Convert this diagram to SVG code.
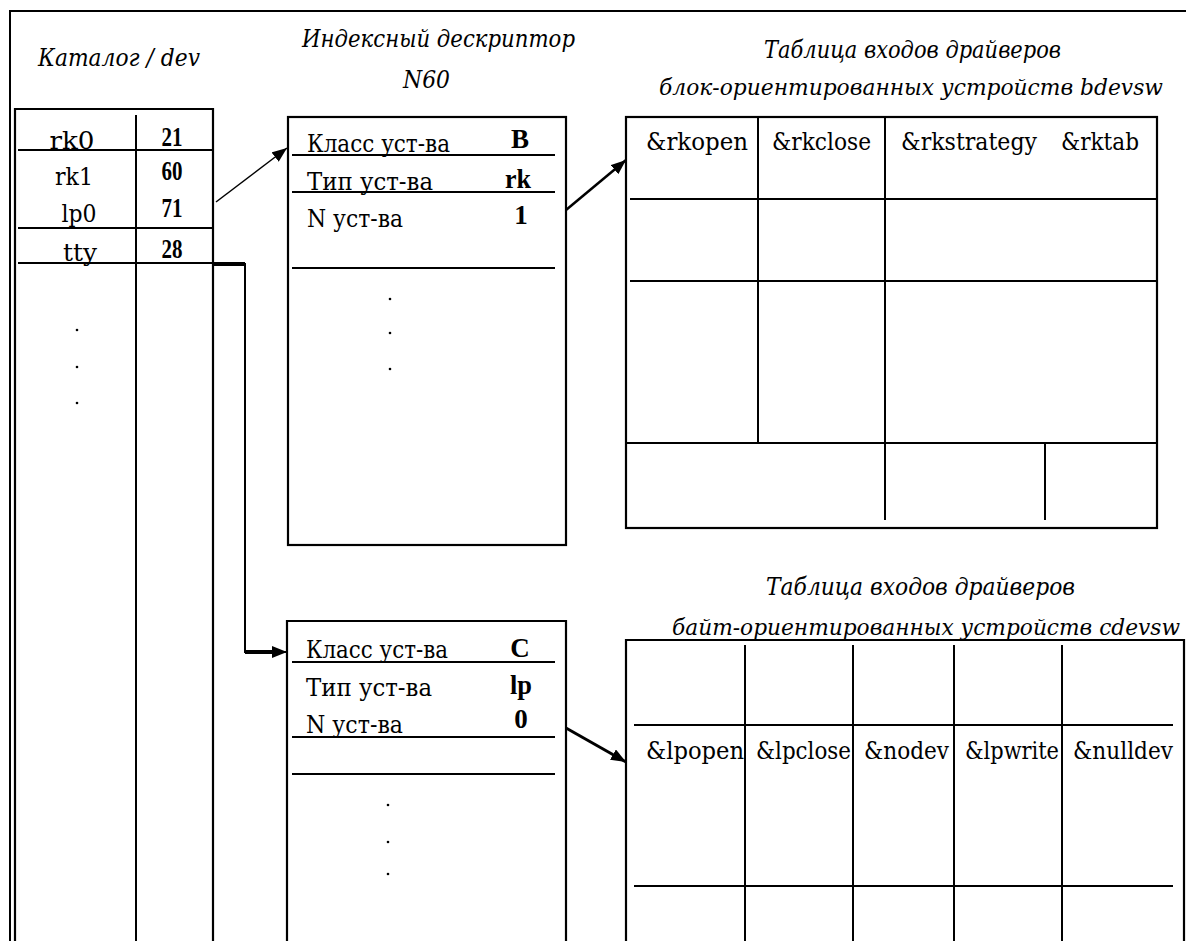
<svg xmlns="http://www.w3.org/2000/svg" width="1186" height="941" viewBox="0 0 1186 941">
<defs>
<marker id="ah" markerUnits="userSpaceOnUse" markerWidth="16" markerHeight="12" refX="15" refY="6" orient="auto">
<path d="M0,0 L15,6 L0,12 z" fill="#000"/>
</marker>
<style>
.ln{stroke:#000;stroke-width:2;fill:none}
.bx{stroke:#000;stroke-width:2.2;fill:none}
.t{font-family:"DejaVu Serif","Liberation Serif",serif;font-size:24px;fill:#000}
.b{font-family:"Liberation Serif","DejaVu Serif",serif;font-size:27px;font-weight:bold;fill:#000;text-anchor:middle}
.ti{font-family:"DejaVu Serif","Liberation Serif",serif;font-size:24px;font-style:italic;fill:#000}
.ts{font-size:22px}
.c{text-anchor:middle}
.dot{fill:#000}
</style>
</defs>
<rect width="1186" height="941" fill="#fff"/>
<g id="frame">
<line class="ln" x1="10" y1="11" x2="1186" y2="11"/>
<line class="ln" x1="10" y1="10" x2="10" y2="941"/>
</g>
<g id="catalog">
<text class="ti" x="38" y="66" textLength="162" lengthAdjust="spacingAndGlyphs">Каталог / dev</text>
<path class="bx" d="M15,941 V109 H213 V941"/>
<line class="ln" x1="136" y1="115" x2="136" y2="941"/>
<line class="ln" x1="18" y1="150" x2="213" y2="150"/>
<line class="ln" x1="18" y1="228" x2="213" y2="228"/>
<line class="ln" x1="18" y1="263" x2="213" y2="263"/>
<text class="t c" x="72" y="149" textLength="45" lengthAdjust="spacingAndGlyphs">rk0</text>
<text class="b" x="172" y="146" textLength="21" lengthAdjust="spacingAndGlyphs">21</text>
<text class="t c" x="74" y="185" textLength="38" lengthAdjust="spacingAndGlyphs">rk1</text>
<text class="b" x="172" y="180" textLength="21" lengthAdjust="spacingAndGlyphs">60</text>
<text class="t c" x="79" y="222" textLength="35" lengthAdjust="spacingAndGlyphs">lp0</text>
<text class="b" x="172" y="217" textLength="21" lengthAdjust="spacingAndGlyphs">71</text>
<text class="t c" x="80" y="261" textLength="34" lengthAdjust="spacingAndGlyphs">tty</text>
<text class="b" x="172" y="258" textLength="21" lengthAdjust="spacingAndGlyphs">28</text>
<circle class="dot" cx="77" cy="330" r="1.3"/>
<circle class="dot" cx="77" cy="367" r="1.3"/>
<circle class="dot" cx="77" cy="403" r="1.3"/>
</g>
<g id="inode1">
<text class="ti" x="302" y="47" textLength="273" lengthAdjust="spacingAndGlyphs">Индексный дескриптор</text>
<text class="ti" x="403" y="88" textLength="47" lengthAdjust="spacingAndGlyphs">N60</text>
<rect class="bx" x="288" y="117" width="278" height="428"/>
<text class="t" x="307" y="152" textLength="143" lengthAdjust="spacingAndGlyphs">Класс уст-ва</text>
<text class="b" x="520" y="148">B</text>
<line class="ln" x1="292" y1="155" x2="555" y2="155"/>
<text class="t" x="307" y="190" textLength="126" lengthAdjust="spacingAndGlyphs">Тип уст-ва</text>
<text class="b" x="518" y="188" textLength="26" lengthAdjust="spacingAndGlyphs">rk</text>
<line class="ln" x1="292" y1="192" x2="555" y2="192"/>
<text class="t" x="307" y="227" textLength="96" lengthAdjust="spacingAndGlyphs">N уст-ва</text>
<text class="b" x="521" y="224">1</text>
<line class="ln" x1="292" y1="268" x2="555" y2="268"/>
<circle class="dot" cx="390" cy="299" r="1.3"/>
<circle class="dot" cx="390" cy="333" r="1.3"/>
<circle class="dot" cx="390" cy="369" r="1.3"/>
</g>
<g id="inode2">
<path class="bx" d="M287,941 V621 H566 V941"/>
<text class="t" x="306" y="658" textLength="142" lengthAdjust="spacingAndGlyphs">Класс уст-ва</text>
<text class="b" x="520" y="657">C</text>
<line class="ln" x1="292" y1="662" x2="555" y2="662"/>
<text class="t" x="306" y="696" textLength="126" lengthAdjust="spacingAndGlyphs">Тип уст-ва</text>
<text class="b" x="521" y="694" textLength="22" lengthAdjust="spacingAndGlyphs">lp</text>
<text class="t" x="306" y="733" textLength="97" lengthAdjust="spacingAndGlyphs">N уст-ва</text>
<text class="b" x="521" y="728">0</text>
<line class="ln" x1="292" y1="737" x2="555" y2="737"/>
<line class="ln" x1="292" y1="774" x2="555" y2="774"/>
<circle class="dot" cx="388" cy="805" r="1.3"/>
<circle class="dot" cx="388" cy="842" r="1.3"/>
<circle class="dot" cx="388" cy="874" r="1.3"/>
</g>
<g id="bdevsw">
<text class="ti" x="764" y="58" textLength="297" lengthAdjust="spacingAndGlyphs">Таблица входов драйверов</text>
<text class="ti ts" x="659" y="95" textLength="504" lengthAdjust="spacingAndGlyphs">блок-ориентированных устройств bdevsw</text>
<rect class="bx" x="626" y="117" width="531" height="411"/>
<line class="ln" x1="758" y1="117" x2="758" y2="443"/>
<line class="ln" x1="885" y1="117" x2="885" y2="520"/>
<line class="ln" x1="1045" y1="443" x2="1045" y2="520"/>
<line class="ln" x1="630" y1="199" x2="1157" y2="199"/>
<line class="ln" x1="630" y1="281" x2="1157" y2="281"/>
<line class="ln" x1="626" y1="443" x2="1157" y2="443"/>
<text class="t" x="646" y="150" textLength="102" lengthAdjust="spacingAndGlyphs">&amp;rkopen</text>
<text class="t" x="772" y="150" textLength="99" lengthAdjust="spacingAndGlyphs">&amp;rkclose</text>
<text class="t" x="901" y="150" textLength="136" lengthAdjust="spacingAndGlyphs">&amp;rkstrategy</text>
<text class="t" x="1061" y="150" textLength="78" lengthAdjust="spacingAndGlyphs">&amp;rktab</text>
</g>
<g id="cdevsw">
<text class="ti" x="766" y="595" textLength="309" lengthAdjust="spacingAndGlyphs">Таблица входов драйверов</text>
<text class="ti ts" x="672" y="635" textLength="508" lengthAdjust="spacingAndGlyphs">байт-ориентированных устройств cdevsw</text>
<path class="bx" d="M626,941 V640 H1184 V941"/>
<line class="ln" x1="745" y1="645" x2="745" y2="941"/>
<line class="ln" x1="853" y1="645" x2="853" y2="941"/>
<line class="ln" x1="954" y1="645" x2="954" y2="941"/>
<line class="ln" x1="1062" y1="645" x2="1062" y2="941"/>
<line class="ln" x1="634" y1="725" x2="1173" y2="725"/>
<line class="ln" x1="634" y1="886" x2="1173" y2="886"/>
<text class="t" x="646" y="759" textLength="98" lengthAdjust="spacingAndGlyphs">&amp;lpopen</text>
<text class="t" x="756" y="759" textLength="95" lengthAdjust="spacingAndGlyphs">&amp;lpclose</text>
<text class="t" x="864" y="759" textLength="85" lengthAdjust="spacingAndGlyphs">&amp;nodev</text>
<text class="t" x="965" y="759" textLength="94" lengthAdjust="spacingAndGlyphs">&amp;lpwrite</text>
<text class="t" x="1073" y="759" textLength="100" lengthAdjust="spacingAndGlyphs">&amp;nulldev</text>
</g>
<g id="connectors">
<line x1="216" y1="202" x2="287" y2="148" stroke="#000" stroke-width="1.5" marker-end="url(#ah)"/>
<line x1="566" y1="210" x2="626" y2="160" stroke="#000" stroke-width="2.5" marker-end="url(#ah)"/>
<path d="M213,264 H245" stroke="#000" stroke-width="4" fill="none"/>
<path d="M245,263 V652 H287" stroke="#000" stroke-width="2" fill="none" marker-end="url(#ah)"/>
<path d="M245,652 H275" stroke="#000" stroke-width="4" fill="none"/>
<line x1="566" y1="728" x2="626" y2="762" stroke="#000" stroke-width="3" marker-end="url(#ah)"/>
</g>
</svg>
